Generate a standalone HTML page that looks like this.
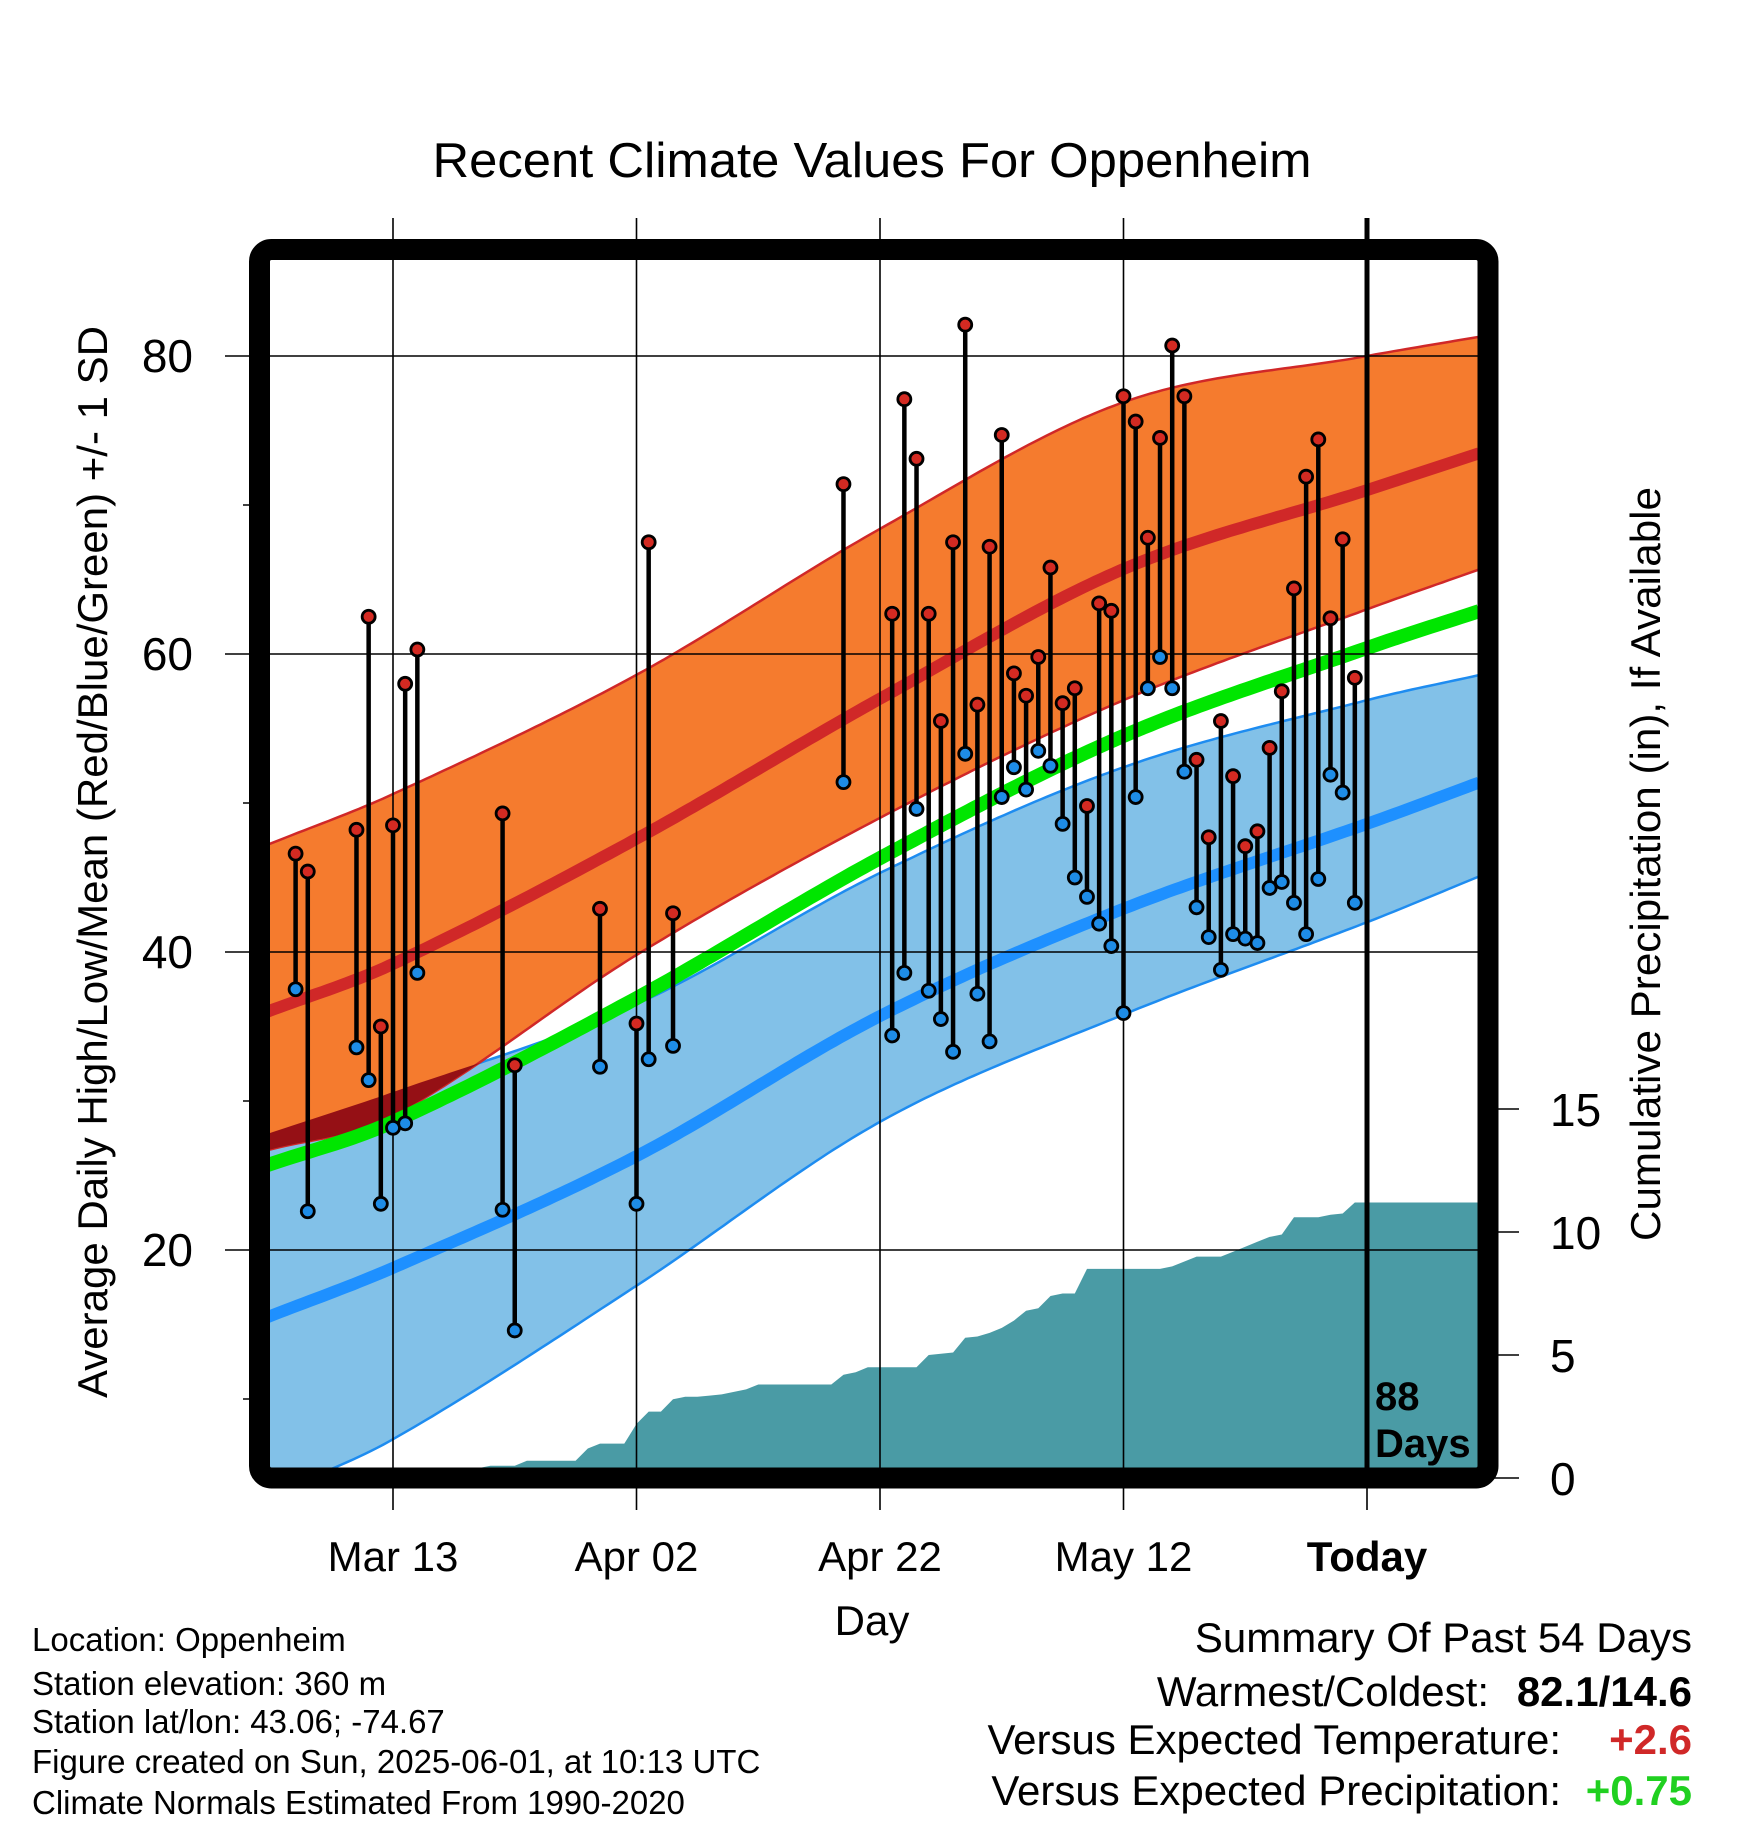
<!DOCTYPE html>
<html><head><meta charset="utf-8"><style>
html,body{margin:0;padding:0;background:#fff;}
svg{display:block;font-family:"Liberation Sans",sans-serif;}
</style></head><body>
<svg id="chart" width="1748" height="1828" viewBox="0 0 1748 1828" xmlns="http://www.w3.org/2000/svg">
<defs><clipPath id="plotclip"><rect x="270" y="260" width="1208" height="1208"/></clipPath></defs>
<text x="872" y="177" font-size="49" text-anchor="middle" textLength="879" lengthAdjust="spacingAndGlyphs">Recent Climate Values For Oppenheim</text>
<g id="plot" clip-path="url(#plotclip)"></g>
<g id="grid"></g>
<g id="marks" clip-path="url(#plotclip)"></g>
<rect x="259.5" y="249.5" width="1228.5" height="1228.5" rx="12" fill="none" stroke="#000" stroke-width="21"/>
<g id="axes"></g>
<text transform="translate(107,862) rotate(-90)" font-size="42" text-anchor="middle" textLength="1072" lengthAdjust="spacingAndGlyphs">Average Daily High/Low/Mean (Red/Blue/Green) +/- 1 SD</text>
<text transform="translate(1660,864) rotate(-90)" font-size="42" text-anchor="middle" textLength="754" lengthAdjust="spacingAndGlyphs">Cumulative Precipitation (in), If Available</text>
<text x="872" y="1635" font-size="42" text-anchor="middle">Day</text>
<text x="1375" y="1410" font-size="40" font-weight="bold">88</text>
<text x="1375" y="1457" font-size="40" font-weight="bold">Days</text>
<g font-size="33">
<text x="32" y="1651">Location: Oppenheim</text>
<text x="32" y="1695">Station elevation: 360 m</text>
<text x="32" y="1733">Station lat/lon: 43.06; -74.67</text>
<text x="32" y="1773">Figure created on Sun, 2025-06-01, at 10:13 UTC</text>
<text x="32" y="1814">Climate Normals Estimated From 1990-2020</text>
</g>
<g font-size="42">
<text x="1692" y="1652" text-anchor="end">Summary Of Past 54 Days</text>
<text x="1489" y="1706" text-anchor="end">Warmest/Coldest:</text>
<text x="1692" y="1706" text-anchor="end" font-weight="bold">82.1/14.6</text>
<text x="1561" y="1754" text-anchor="end">Versus Expected Temperature:</text>
<text x="1692" y="1754" text-anchor="end" font-weight="bold" fill="#D02828">+2.6</text>
<text x="1561" y="1805" text-anchor="end">Versus Expected Precipitation:</text>
<text x="1692" y="1805" text-anchor="end" font-weight="bold" fill="#20D020">+0.75</text>
</g>
</svg>
<script>
// normals sampled at days (0 = Mar 13)
const normDays = [-10.3, 0, 20, 40, 60, 80, 89.3];
const highUpper = [47.2, 50.6, 58.6, 68.4, 76.9, 80.0, 81.3];
const highMean  = [36.0, 39.2, 47.6, 57.0, 65.7, 71.0, 73.5];
const highLower = [26.7, 29.0, 39.8, 49.0, 56.9, 63.0, 65.7];
const meanTemp  = [25.7, 28.6, 36.9, 46.3, 54.5, 60.4, 62.9];
const lowUpper  = [27.8, 30.6, 36.5, 45.3, 52.4, 56.9, 58.6];
const lowMean   = [15.5, 18.8, 26.3, 35.7, 42.9, 48.6, 51.4];
const lowLower  = [3.5, 7.3, 17.6, 28.6, 35.8, 42.0, 45.1];
// observations
const obsDays = [-8,-7,-3,-2,-1,0,1,2,9,10,17,20,21,23,37,41,42,43,44,45,46,47,48,49,50,51,52,53,54,55,56,57,58,59,60,61,62,63,64,65,66,67,68,69,70,71,72,73,74,75,76,77,78,79];
const obsHigh = [46.6,45.4,48.2,62.5,35.0,48.5,58.0,60.3,49.3,32.4,42.9,35.2,67.5,42.6,71.4,62.7,77.1,73.1,62.7,55.5,67.5,82.1,56.6,67.2,74.7,58.7,57.2,59.8,65.8,56.7,57.7,49.8,63.4,62.9,77.3,75.6,67.8,74.5,80.7,77.3,52.9,47.7,55.5,51.8,47.1,48.1,53.7,57.5,64.4,71.9,74.4,62.4,67.7,58.4];
const obsLow  = [37.5,22.6,33.6,31.4,23.1,28.2,28.5,38.6,22.7,14.6,32.3,23.1,32.8,33.7,51.4,34.4,38.6,49.6,37.4,35.5,33.3,53.3,37.2,34.0,50.4,52.4,50.9,53.5,52.5,48.6,45.0,43.7,41.9,40.4,35.9,50.4,57.7,59.8,57.7,52.1,43.0,41.0,38.8,41.2,40.9,40.6,44.3,44.7,43.3,41.2,44.9,51.9,50.7,43.3];
// cumulative precipitation, days -8..79
const precipCum = [0,0,0,0,0,0,0,0,0,0,0,0,0,0,0.05,0.4,0.5,0.5,0.5,0.7,0.7,0.7,0.7,0.7,1.2,1.4,1.4,1.4,2.2,2.7,2.7,3.2,3.3,3.3,3.35,3.4,3.5,3.6,3.8,3.8,3.8,3.8,3.8,3.8,3.8,4.2,4.3,4.5,4.5,4.5,4.5,4.5,5.0,5.05,5.1,5.7,5.75,5.9,6.1,6.4,6.8,6.9,7.4,7.5,7.5,8.5,8.5,8.5,8.5,8.5,8.5,8.5,8.6,8.8,9.0,9.0,9.0,9.2,9.4,9.6,9.8,9.9,10.6,10.6,10.6,10.7,10.75,11.2];
const precipStart = -8;
const xTickDays = [0, 20, 40, 60, 80];
const xTickLabels = ["Mar 13", "Apr 02", "Apr 22", "May 12", "Today"];
const yTicks = [20, 40, 60, 80];
const yMinorTicks = [10, 30, 50, 70];
const pTicks = [0, 5, 10, 15];

const NS = "http://www.w3.org/2000/svg";
const X = d => 393 + d * 12.175;
const Y = t => 356 + (80 - t) * 14.9;
const YP = p => 1478 - p * 24.6;
const DMIN = -10.3, DMAX = 89.3;

function mk(parent, tag, attrs) {
  const e = document.createElementNS(NS, tag);
  for (const k in attrs) e.setAttribute(k, attrs[k]);
  parent.appendChild(e);
  return e;
}
// non-uniform cubic Hermite interpolation of normals
function slope(vals, i) {
  const n = vals.length;
  if (i === 0) return (vals[1] - vals[0]) / (normDays[1] - normDays[0]);
  if (i === n - 1) return (vals[n - 1] - vals[n - 2]) / (normDays[n - 1] - normDays[n - 2]);
  return (vals[i + 1] - vals[i - 1]) / (normDays[i + 1] - normDays[i - 1]);
}
function interp(vals, d) {
  let i = 0;
  while (i < normDays.length - 2 && d > normDays[i + 1]) i++;
  const h = normDays[i + 1] - normDays[i];
  const t = Math.max(0, Math.min(1, (d - normDays[i]) / h));
  const m0 = slope(vals, i) * h, m1 = slope(vals, i + 1) * h;
  const t2 = t * t, t3 = t2 * t;
  return (2 * t3 - 3 * t2 + 1) * vals[i] + (t3 - 2 * t2 + t) * m0 + (-2 * t3 + 3 * t2) * vals[i + 1] + (t3 - t2) * m1;
}
const sd = [];
for (let d = DMIN; d <= DMAX + 0.001; d += 0.5) sd.push(d);
const pts = (vals) => sd.map(d => [X(d), Y(interp(vals, d))]);
const line = (p) => p.map((q, i) => (i ? "L" : "M") + q[0].toFixed(1) + "," + q[1].toFixed(1)).join("");
const band = (a, b) => line(a) + line(b.slice().reverse()).replace("M", "L") + "Z";

const plot = document.getElementById("plot");
let el;
el = mk(plot, "path", {d: band(pts(lowUpper), pts(lowLower)), fill: "#82C1E8", stroke: "#1E8CF0", "stroke-width": 2.5});


el = mk(plot, "path", {d: band(pts(highUpper), pts(highLower)), fill: "#F57B2E", stroke: "#D02828", "stroke-width": 2.5});


const ovTop = sd.map(d => [X(d), Y(interp(lowUpper, d))]);
const ovBot = sd.map(d => [X(d), Y(Math.min(interp(highLower, d), interp(lowUpper, d)))]);
el = mk(plot, "path", {d: band(ovTop, ovBot), fill: "#951015"});


el = mk(plot, "path", {d: line(pts(highMean)), fill: "none", stroke: "#D02828", "stroke-width": 12});


el = mk(plot, "path", {d: line(pts(lowMean)), fill: "none", stroke: "#1E90FF", "stroke-width": 12});


el = mk(plot, "path", {d: line(pts(meanTemp)), fill: "none", stroke: "#00E600", "stroke-width": 14});


// precipitation area
let pd = "M" + X(DMIN) + "," + YP(0) + "L" + X(DMIN) + "," + YP(precipCum[0]);
precipCum.forEach((v, i) => {
  const d = precipStart + i;
  pd += "L" + X(d).toFixed(1) + "," + YP(v).toFixed(1);
});
pd += "L" + X(DMAX) + "," + YP(precipCum[precipCum.length - 1]).toFixed(1) + "L" + X(DMAX) + "," + YP(0) + "Z";
el = mk(plot, "path", {d: pd, fill: "#4A9BA5"});



// grid
const grid = document.getElementById("grid");
xTickDays.forEach((d, i) => {
  const g = mk(grid, "line", {x1: X(d), x2: X(d), y1: 218, y2: 1468, stroke: "#000", "stroke-width": i === 4 ? 5 : 1.6});
  
  
});
yTicks.forEach(t => {
  const g = mk(grid, "line", {x1: 225, x2: 1478, y1: Y(t), y2: Y(t), stroke: "#000", "stroke-width": 1.6});
  
  
});

// marks
const marks = document.getElementById("marks");
obsDays.forEach((d, i) => {
  const s = mk(marks, "line", {x1: X(d), x2: X(d), y1: Y(obsHigh[i]), y2: Y(obsLow[i]), stroke: "#000", "stroke-width": 4.5});
  
  
});
obsDays.forEach((d, i) => {
  const h = mk(marks, "circle", {cx: X(d), cy: Y(obsHigh[i]), r: 6.5, fill: "#D42A22", stroke: "#000", "stroke-width": 2.8});
  
  
  const l = mk(marks, "circle", {cx: X(d), cy: Y(obsLow[i]), r: 6.5, fill: "#1E8CE6", stroke: "#000", "stroke-width": 2.8});
  
  
});

// axes
const axes = document.getElementById("axes");
yTicks.forEach(t => {
  const lb = mk(axes, "text", {x: 193, y: Y(t) + 16, "font-size": 46, "text-anchor": "end"});
  lb.textContent = t;
  
  
});
yMinorTicks.forEach(t => {
  const tk = mk(axes, "line", {x1: 243, x2: 260, y1: Y(t), y2: Y(t), stroke: "#000", "stroke-width": 1.6});
  
  
});
pTicks.forEach(p => {
  const tk = mk(axes, "line", {x1: 1488, x2: 1519, y1: YP(p), y2: YP(p), stroke: "#000", "stroke-width": 1.6});
  
  
  const lb = mk(axes, "text", {x: 1550, y: YP(p) + 17, "font-size": 46});
  lb.textContent = p;
  
  
});
xTickDays.forEach((d, i) => {
  const tk = mk(axes, "line", {x1: X(d), x2: X(d), y1: 1488, y2: 1510, stroke: "#000", "stroke-width": 1.6});
  
  
  const lb = mk(axes, "text", {x: X(d), y: 1571, "font-size": 42, "text-anchor": "middle", "font-weight": i === 4 ? "bold" : "normal"});
  lb.textContent = xTickLabels[i];
  
  
});
</script>
</body></html>
